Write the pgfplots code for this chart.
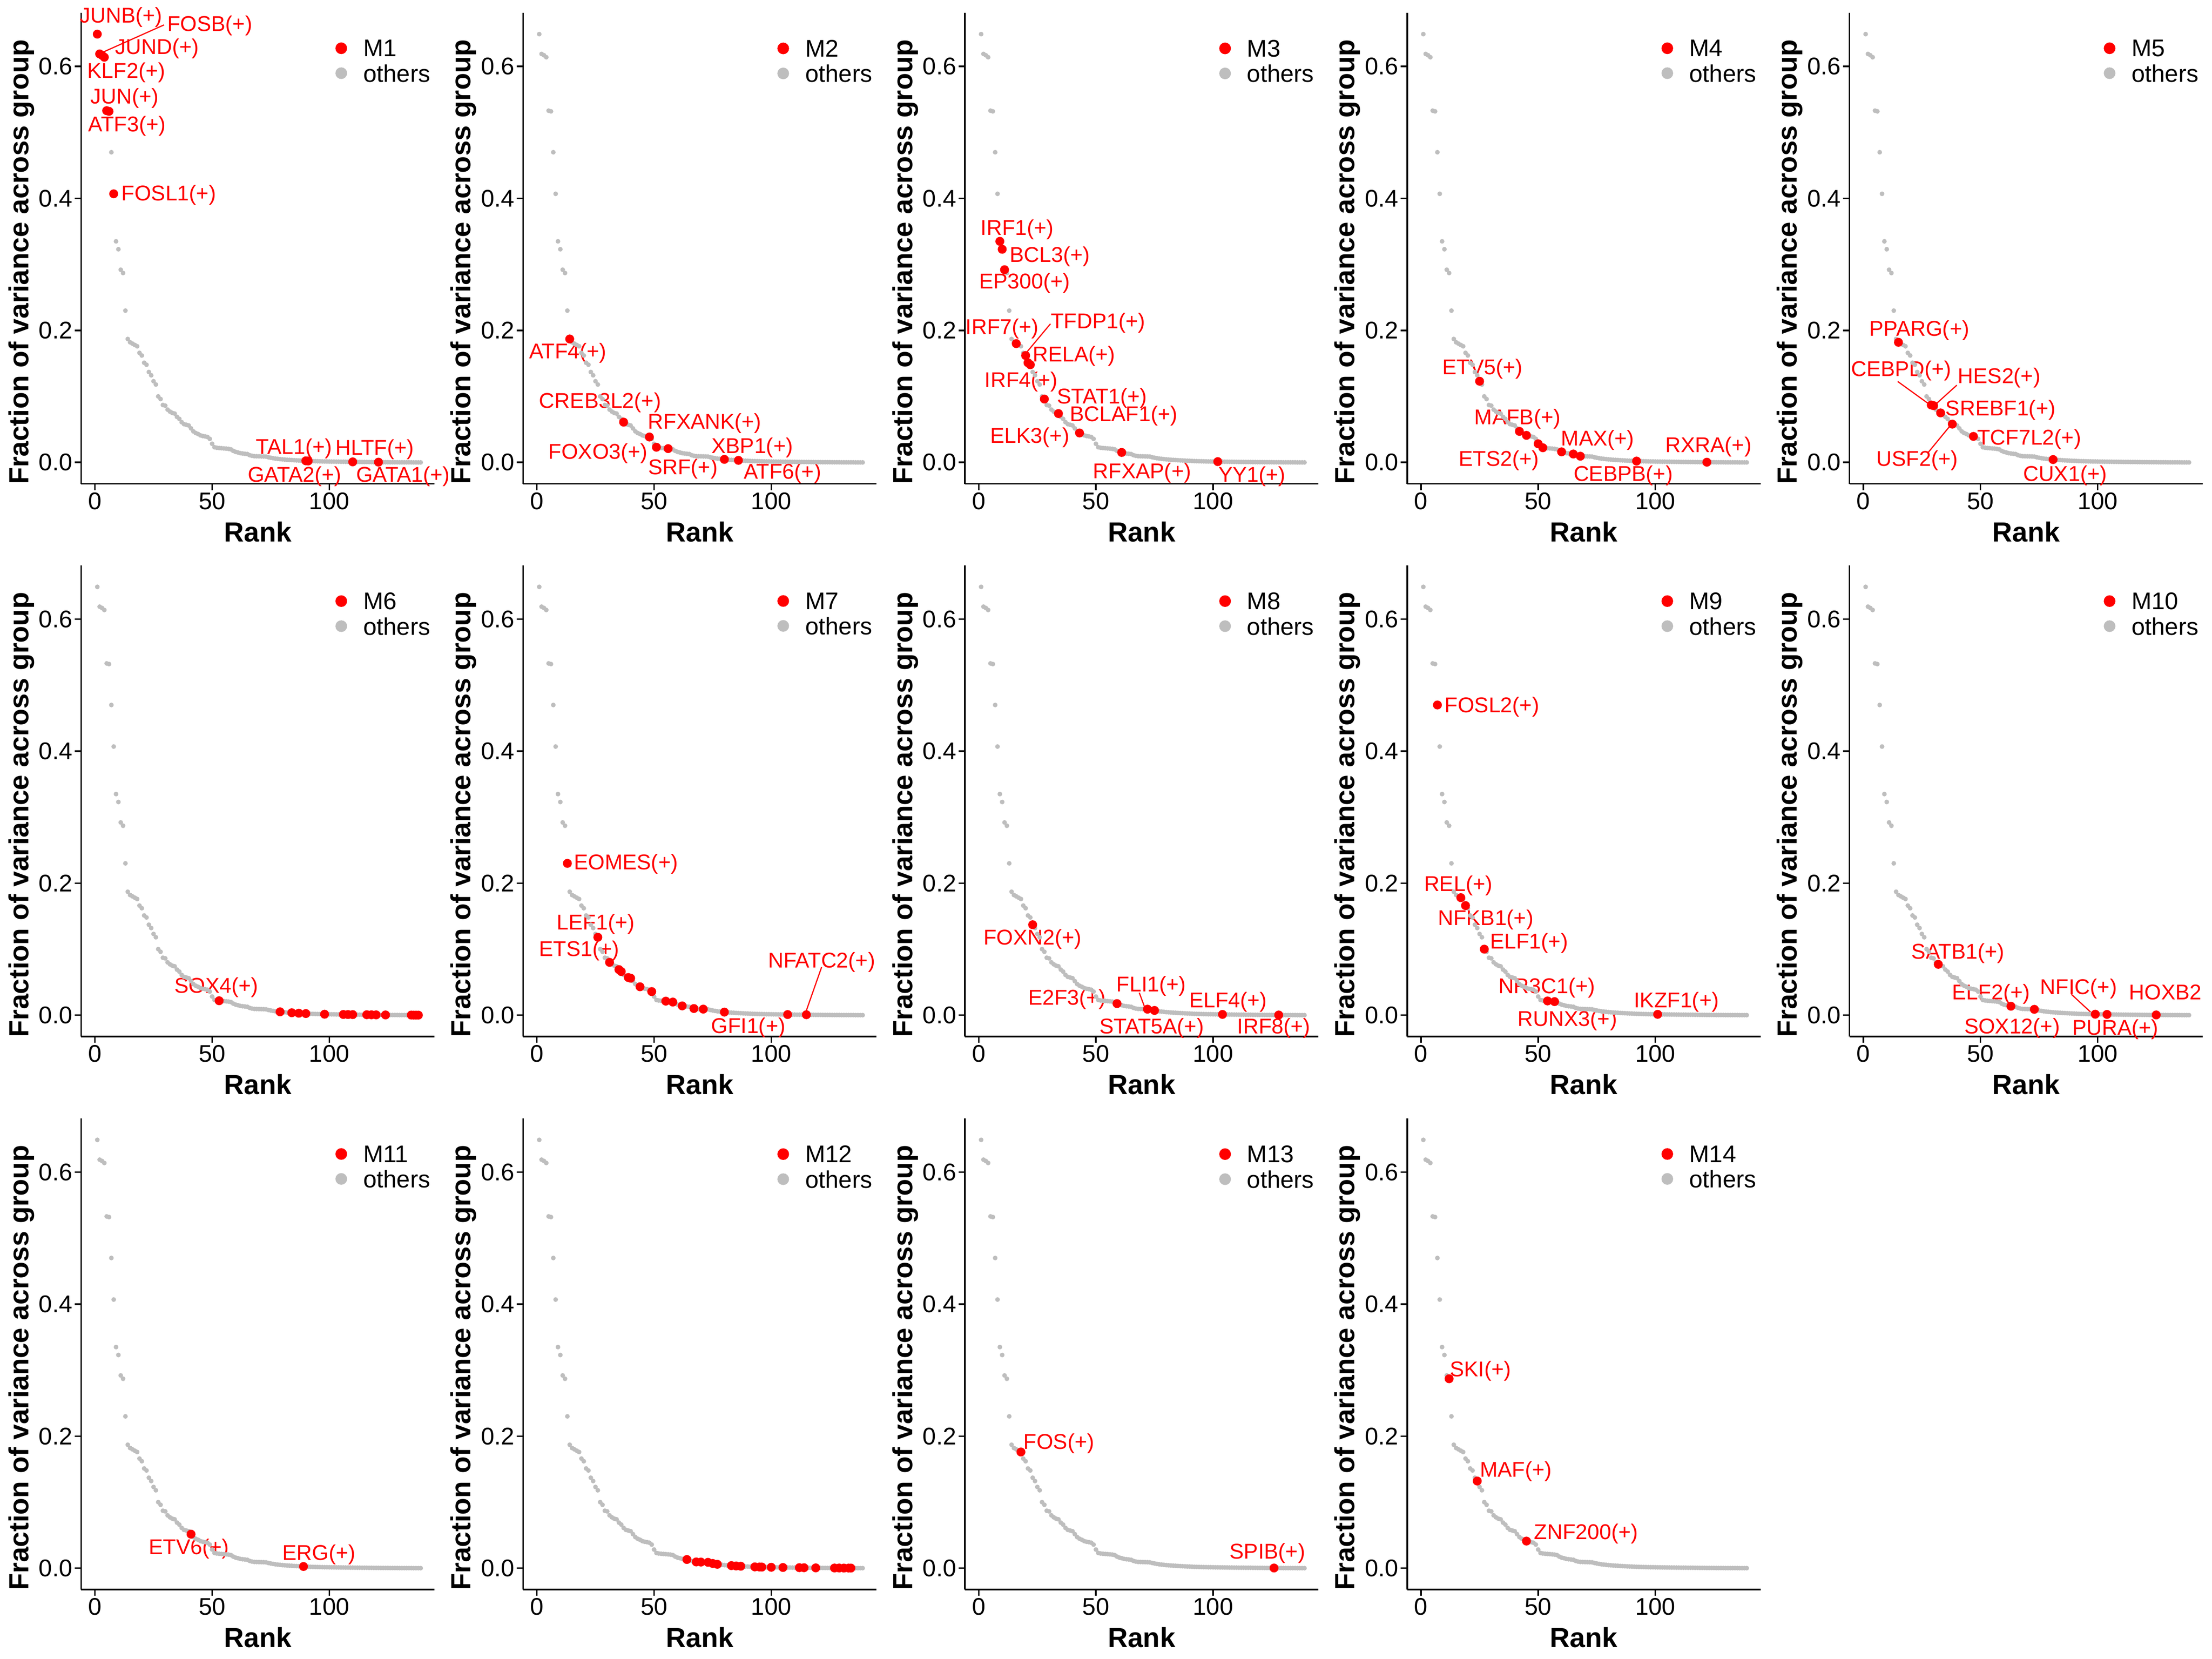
\documentclass[border=0pt]{standalone}
\usepackage{pgfplots}
\pgfplotsset{compat=1.18}
\usepackage{pgfplotstable}
\usepackage{fontspec}
\setmainfont{Liberation Sans}
\definecolor{grayc}{HTML}{BEBEBE}
\definecolor{redc}{HTML}{FF0000}

\pgfplotstableread{
r v
1 0.649
2 0.619
3 0.617
4 0.614
5 0.533
6 0.532
7 0.470
8 0.407
9 0.335
10 0.323
11 0.292
12 0.287
13 0.230
14 0.187
15 0.182
16 0.180
17 0.178
18 0.176
19 0.166
20 0.162
21 0.151
22 0.148
23 0.137
24 0.132
25 0.123
26 0.118
27 0.100
28 0.096
29 0.087
30 0.086
31 0.080
32 0.077
33 0.075
34 0.074
35 0.069
36 0.066
37 0.061
38 0.058
39 0.057
40 0.056
41 0.0515
42 0.047
43 0.0446
44 0.043
45 0.041
46 0.040
47 0.0394
48 0.0385
49 0.0357
50 0.0282
51 0.0230
52 0.0222
53 0.0218
54 0.0215
55 0.0212
56 0.0209
57 0.0205
58 0.0198
59 0.0175
60 0.0160
61 0.0151
62 0.0140
63 0.0135
64 0.0131
65 0.0127
66 0.0110
67 0.0100
68 0.0094
69 0.0093
70 0.0092
71 0.0091
72 0.0090
73 0.0088
74 0.0078
75 0.0071
76 0.0064
77 0.0058
78 0.0054
79 0.0050
80 0.0046
81 0.0043
82 0.0040
83 0.0038
84 0.0036
85 0.0033
86 0.0031
87 0.0029
88 0.0027
89 0.0025
90 0.0024
91 0.0022
92 0.0020
93 0.0019
94 0.0018
95 0.0017
96 0.0016
97 0.0015
98 0.0014
99 0.0014
100 0.0013
101 0.0012
102 0.0012
103 0.0011
104 0.0011
105 0.0010
106 0.0010
107 0.0009
108 0.0009
109 0.0008
110 0.0008
111 0.0007
112 0.0007
113 0.0007
114 0.0006
115 0.0006
116 0.0006
117 0.0005
118 0.0005
119 0.0004
120 0.0004
121 0.0004
122 0.0003
123 0.0003
124 0.0003
125 0.0003
126 0.0002
127 0.0002
128 0.0002
129 0.0002
130 0.0001
131 0.0001
132 0.0001
133 0.0001
134 0.0001
135 0.0001
136 0.0000
137 0.0000
138 0.0000
139 0.0000
}\curve

\pgfplotsset{
 gry/.style={only marks, mark=*, mark size=1pt, color=grayc, forget plot},
 rd/.style={only marks, mark=*, mark size=2.1pt, color=redc, forget plot},
 leg/.style={only marks, mark=*, mark size=2.8pt},
 panel/.style={
  scale only axis, width=6.39cm, height=8.52cm,
  anchor=south west,
  xmin=-5.9, xmax=144.9, ymin=-0.0325, ymax=0.6815,
  axis x line*=bottom, axis y line*=left,
  xtick pos=bottom, ytick pos=left,
  axis line style={line width=0.8pt, black},
  xtick={0,50,100}, ytick={0,0.2,0.4,0.6},
  minor tick num=0,
  tick align=outside, major tick length=0.115cm,
  every tick/.style={line width=0.8pt, black},
  /pgf/number format/assume math mode=true,
  yticklabel style={/pgf/number format/fixed, /pgf/number format/fixed zerofill, /pgf/number format/precision=1, inner sep=1pt},
  xticklabel style={inner sep=1pt},
  tick label style={font=\fontsize{12.4}{14}\selectfont, text=black},
  xlabel={Rank}, ylabel={Fraction of variance across group},
  xlabel style={at={(axis description cs:0.5,-0.1018)}, anchor=center, font=\bfseries\fontsize{14.2}{16}\selectfont},
  ylabel style={at={(axis description cs:-0.169,0.471)}, anchor=center, font=\bfseries\fontsize{14.2}{16}\selectfont},
  clip=false,
  legend style={at={(axis description cs:0.7194,0.942)}, anchor=north west, draw=none, fill=none, inner sep=0pt, outer sep=0pt, font=\fontsize{12.4}{14}\selectfont, row sep=0.09cm, nodes={inner sep=0pt}, legend cell align=left},
  legend image code/.code={\path (-0.1cm,0cm) (0.39cm,0cm); \draw[##1] plot coordinates {(0cm,0.027cm)};},
 }
}
\tikzset{lab/.style={text=redc, font=\fontsize{11}{11}\selectfont, anchor=center, inner sep=0pt, text height=0.716em, text depth=0pt},
 seg/.style={draw=redc, line width=0.6pt}}

\newcommand{\legs}[1]{%
\addlegendimage{leg, color=redc}
\addlegendentry{#1}
\addlegendimage{leg, color=grayc}
\addlegendentry{others}
}

\begin{document}
\begin{tikzpicture}
\path[use as bounding box] (0,0) rectangle (40cm,30cm);
\clip (0,0) rectangle (40cm,30cm);
\fill[white] (0,0) rectangle (40cm,30cm);

% ---------- M1
\begin{axis}[panel, at={(1.467cm,21.25cm)}]
\addplot[gry] table[x=r,y=v]{\curve};
\addplot[rd] coordinates {(1,0.649) (2,0.619) (3,0.617) (4,0.614) (5,0.533) (6,0.532) (8,0.407) (90,0.0024) (91,0.0022) (110,0.0008) (121,0.0004)};
\legs{M1}
\draw[seg] (axis cs:29.5,0.663) -- (axis cs:3.0,0.621);
\node[lab] at (axis cs:11.1,0.677) {JUNB(+)};
\node[lab] at (axis cs:49.0,0.664) {FOSB(+)};
\node[lab] at (axis cs:26.5,0.629) {JUND(+)};
\node[lab] at (axis cs:13.4,0.593) {KLF2(+)};
\node[lab] at (axis cs:12.6,0.554) {JUN(+)};
\node[lab] at (axis cs:13.7,0.512) {ATF3(+)};
\node[lab] at (axis cs:31.5,0.407) {FOSL1(+)};
\node[lab] at (axis cs:85.0,0.023) {TAL1(+)};
\node[lab] at (axis cs:119.4,0.0217) {HLTF(+)};
\node[lab] at (axis cs:85.2,-0.019) {GATA2(+)};
\node[lab] at (axis cs:131.5,-0.019) {GATA1(+)};
\end{axis}

% ---------- M2
\begin{axis}[panel, at={(9.459cm,21.25cm)}]
\addplot[gry] table[x=r,y=v]{\curve};
\addplot[rd] coordinates {(14,0.187) (37,0.061) (48,0.0385) (51,0.0230) (56,0.0209) (80,0.0046) (86,0.0031)};
\legs{M2}
\draw[seg] (axis cs:33.0,0.076) -- (axis cs:36.3,0.062);
\node[lab] at (axis cs:13.2,0.168) {ATF4(+)};
\node[lab] at (axis cs:27.0,0.093) {CREB3L2(+)};
\node[lab] at (axis cs:71.6,0.061) {RFXANK(+)};
\node[lab] at (axis cs:26.1,0.016) {FOXO3(+)};
\node[lab] at (axis cs:91.9,0.0246) {XBP1(+)};
\node[lab] at (axis cs:62.3,-0.008) {SRF(+)};
\node[lab] at (axis cs:104.8,-0.0145) {ATF6(+)};
\end{axis}

% ---------- M3
\begin{axis}[panel, at={(17.449cm,21.25cm)}]
\addplot[gry] table[x=r,y=v]{\curve};
\addplot[rd] coordinates {(9,0.335) (10,0.323) (11,0.292) (16,0.180) (20,0.162) (21,0.151) (22,0.148) (28,0.096) (34,0.074) (43,0.0446) (61,0.0151) (102,0.0012)};
\legs{M3}
\draw[seg] (axis cs:30.6,0.21) -- (axis cs:20.0,0.165);
\node[lab] at (axis cs:16.4,0.355) {IRF1(+)};
\node[lab] at (axis cs:30.3,0.314) {BCL3(+)};
\node[lab] at (axis cs:19.6,0.274) {EP300(+)};
\node[lab] at (axis cs:10.0,0.2045) {IRF7(+)};
\node[lab] at (axis cs:50.9,0.2136) {TFDP1(+)};
\node[lab] at (axis cs:40.6,0.163) {RELA(+)};
\node[lab] at (axis cs:18.1,0.124) {IRF4(+)};
\node[lab] at (axis cs:52.6,0.0996) {STAT1(+)};
\node[lab] at (axis cs:61.9,0.0728) {BCLAF1(+)};
\node[lab] at (axis cs:21.8,0.0396) {ELK3(+)};
\node[lab] at (axis cs:69.7,-0.0139) {RFXAP(+)};
\node[lab] at (axis cs:116.6,-0.0193) {YY1(+)};
\end{axis}

% ---------- M4
\begin{axis}[panel, at={(25.446cm,21.25cm)}]
\addplot[gry] table[x=r,y=v]{\curve};
\addplot[rd] coordinates {(25,0.123) (42,0.047) (45,0.041) (50,0.0282) (52,0.0222) (60,0.0160) (65,0.0127) (68,0.0094) (92,0.0020) (122,0.0003)};
\legs{M4}
\node[lab] at (axis cs:26.3,0.144) {ETV5(+)};
\node[lab] at (axis cs:41.2,0.068) {MAFB(+)};
\node[lab] at (axis cs:75.4,0.0359) {MAX(+)};
\node[lab] at (axis cs:122.7,0.026) {RXRA(+)};
\node[lab] at (axis cs:33.2,0.0048) {ETS2(+)};
\node[lab] at (axis cs:86.3,-0.0177) {CEBPB(+)};
\end{axis}

% ---------- M5
\begin{axis}[panel, at={(33.444cm,21.25cm)}]
\addplot[gry] table[x=r,y=v]{\curve};
\addplot[rd] coordinates {(15,0.182) (29,0.087) (30,0.086) (33,0.075) (38,0.058) (47,0.0394) (81,0.0043)};
\legs{M5}
\draw[seg] (axis cs:14.7,0.1226) -- (axis cs:28.7,0.0867);
\draw[seg] (axis cs:39.9,0.117) -- (axis cs:30.8,0.0878);
\draw[seg] (axis cs:27.8,0.0155) -- (axis cs:37.1,0.0557);
\node[lab] at (axis cs:23.9,0.2018) {PPARG(+)};
\node[lab] at (axis cs:16.2,0.1413) {CEBPD(+)};
\node[lab] at (axis cs:58.0,0.1306) {HES2(+)};
\node[lab] at (axis cs:58.6,0.0814) {SREBF1(+)};
\node[lab] at (axis cs:70.8,0.037) {TCF7L2(+)};
\node[lab] at (axis cs:23.0,0.0048) {USF2(+)};
\node[lab] at (axis cs:86.1,-0.018) {CUX1(+)};
\end{axis}

% ---------- M6
\begin{axis}[panel, at={(1.467cm,11.255cm)}]
\addplot[gry] table[x=r,y=v]{\curve};
\addplot[rd] coordinates {(53,0.0218) (79,0.0050) (84,0.0036) (87,0.0029) (90,0.0024) (98,0.0014) (106,0.0010) (108,0.0009) (110,0.0008) (116,0.0006) (118,0.0005) (120,0.0004) (124,0.0003) (135,0.0001) (136,0) (137,0) (138,0)};
\legs{M6}
\node[lab] at (axis cs:51.8,0.0439) {SOX4(+)};
\end{axis}

% ---------- M7
\begin{axis}[panel, at={(9.459cm,11.255cm)}]
\addplot[gry] table[x=r,y=v]{\curve};
\addplot[rd] coordinates {(13,0.230) (26,0.118) (31,0.080) (35,0.069) (36,0.066) (39,0.057) (40,0.056) (44,0.043) (49,0.0357) (55,0.0212) (58,0.0198) (62,0.0140) (67,0.0100) (71,0.0091) (80,0.0046) (107,0.0009) (115,0.0006)};
\legs{M7}
\draw[seg] (axis cs:121.5,0.0728) -- (axis cs:114.6,0.003);
\node[lab] at (axis cs:38.0,0.231) {EOMES(+)};
\node[lab] at (axis cs:25.1,0.1397) {LEF1(+)};
\node[lab] at (axis cs:18.0,0.0996) {ETS1(+)};
\node[lab] at (axis cs:121.5,0.0824) {NFATC2(+)};
\node[lab] at (axis cs:90.2,-0.0166) {GFI1(+)};
\end{axis}

% ---------- M8
\begin{axis}[panel, at={(17.449cm,11.255cm)}]
\addplot[gry] table[x=r,y=v]{\curve};
\addplot[rd] coordinates {(23,0.137) (59,0.0175) (72,0.0090) (75,0.0071) (104,0.0011) (128,0.0002)};
\legs{M8}
\draw[seg] (axis cs:68.5,0.034) -- (axis cs:70.9,0.011);
\node[lab] at (axis cs:23.0,0.117) {FOXN2(+)};
\node[lab] at (axis cs:37.7,0.026) {E2F3(+)};
\node[lab] at (axis cs:73.6,0.046) {FLI1(+)};
\node[lab] at (axis cs:106.4,0.022) {ELF4(+)};
\node[lab] at (axis cs:73.8,-0.0177) {STAT5A(+)};
\node[lab] at (axis cs:125.9,-0.0177) {IRF8(+)};
\end{axis}

% ---------- M9
\begin{axis}[panel, at={(25.446cm,11.255cm)}]
\addplot[gry] table[x=r,y=v]{\curve};
\addplot[rd] coordinates {(7,0.470) (17,0.178) (19,0.166) (27,0.100) (54,0.0215) (57,0.0205) (101,0.0012)};
\legs{M9}
\node[lab] at (axis cs:30.3,0.4695) {FOSL2(+)};
\node[lab] at (axis cs:15.9,0.1986) {REL(+)};
\node[lab] at (axis cs:27.6,0.147) {NFKB1(+)};
\node[lab] at (axis cs:46.1,0.111) {ELF1(+)};
\node[lab] at (axis cs:53.7,0.0434) {NR3C1(+)};
\node[lab] at (axis cs:62.5,-0.0059) {RUNX3(+)};
\node[lab] at (axis cs:109.0,0.022) {IKZF1(+)};
\end{axis}

% ---------- M10
\begin{axis}[panel, at={(33.444cm,11.255cm)}]
\addplot[gry] table[x=r,y=v]{\curve};
\addplot[rd] coordinates {(32,0.077) (63,0.0135) (73,0.0088) (99,0.0014) (104,0.0011) (125,0.0003)};
\legs{M10}
\draw[seg] (axis cs:88.8,0.0316) -- (axis cs:97.8,0.002);
\node[lab] at (axis cs:40.4,0.0958) {SATB1(+)};
\node[lab] at (axis cs:54.5,0.0343) {ELF2(+)};
\node[lab] at (axis cs:91.9,0.0423) {NFIC(+)};
\node[lab, anchor=east] at (axis cs:144.6,0.0343) {HOXB2};
\node[lab] at (axis cs:63.5,-0.0177) {SOX12(+)};
\node[lab] at (axis cs:107.6,-0.0193) {PURA(+)};
\end{axis}

% ---------- M11
\begin{axis}[panel, at={(1.467cm,1.255cm)}]
\addplot[gry] table[x=r,y=v]{\curve};
\addplot[rd] coordinates {(41,0.0515) (89,0.0025)};
\legs{M11}
\node[lab] at (axis cs:40.1,0.0316) {ETV6(+)};
\node[lab] at (axis cs:95.6,0.0225) {ERG(+)};
\end{axis}

% ---------- M12
\begin{axis}[panel, at={(9.459cm,1.255cm)}]
\addplot[gry] table[x=r,y=v]{\curve};
\addplot[rd] coordinates {(64,0.0131) (68,0.0094) (70,0.0092) (73,0.0088) (75,0.0071) (77,0.0058) (83,0.0038) (85,0.0033) (87,0.0029) (93,0.0019) (95,0.0017) (96,0.0016) (100,0.0013) (105,0.0010) (112,0.0007) (114,0.0006) (119,0.0004) (127,0.0002) (129,0.0002) (131,0.0001) (133,0.0001) (134,0.0001)};
\legs{M12}
\end{axis}

% ---------- M13
\begin{axis}[panel, at={(17.449cm,1.255cm)}]
\addplot[gry] table[x=r,y=v]{\curve};
\addplot[rd] coordinates {(18,0.176) (126,0.0002)};
\legs{M13}
\node[lab] at (axis cs:34.2,0.191) {FOS(+)};
\node[lab] at (axis cs:123.2,0.0246) {SPIB(+)};
\end{axis}

% ---------- M14
\begin{axis}[panel, at={(25.446cm,1.255cm)}]
\addplot[gry] table[x=r,y=v]{\curve};
\addplot[rd] coordinates {(12,0.287) (24,0.132) (45,0.041)};
\legs{M14}
\node[lab] at (axis cs:25.4,0.301) {SKI(+)};
\node[lab] at (axis cs:40.5,0.149) {MAF(+)};
\node[lab] at (axis cs:70.5,0.054) {ZNF200(+)};
\end{axis}

\end{tikzpicture}
\end{document}
